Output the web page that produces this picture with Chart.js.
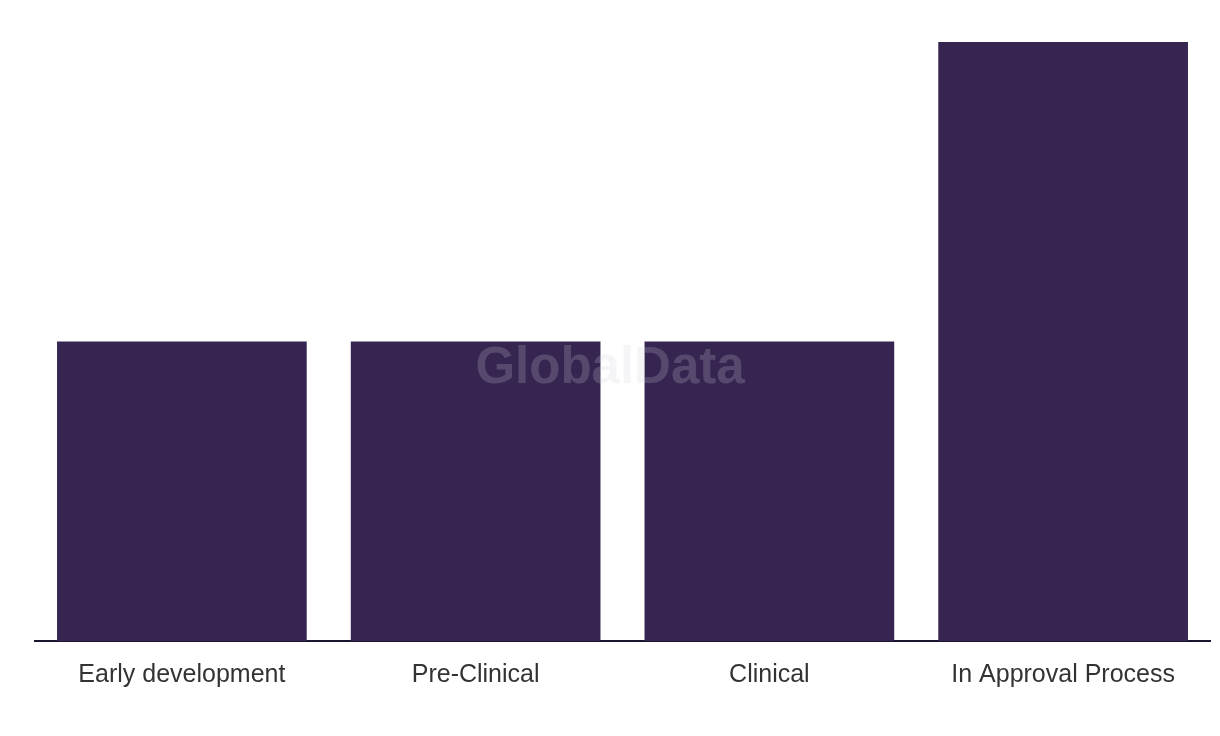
<!DOCTYPE html>
<html>
<head>
<meta charset="utf-8">
<script src="https://cdn.jsdelivr.net/npm/chart.js@4/dist/chart.umd.min.js"></script>
<style>
  html,body{margin:0;padding:0;background:#fff;}
  #wrap{width:1220px;height:736px;position:relative;}
</style>
</head>
<body>
<div id="wrap"><canvas id="stageChart"></canvas></div>
<script>
/* data */
const categories = ['Early development','Pre-Clinical','Clinical','In Approval Process'];
const counts = [1,1,1,2];
const yMax = 2;

const barColor = '#362551';

// watermark drawn over the bars
const watermark = {
  id:'watermark',
  afterDatasetsDraw(chart){
    const {ctx} = chart;
    ctx.save();
    ctx.font = 'bold 51px "Liberation Sans", Arial, sans-serif';
    ctx.fillStyle = 'rgba(207,207,215,0.21)';
    ctx.textAlign = 'center';
    ctx.textBaseline = 'middle';
    ctx.fillText('GlobalData', 610, 369);
    ctx.restore();
  }
};

new Chart(document.getElementById('stageChart').getContext('2d'), {
  type:'bar',
  data:{
    labels:categories,
    datasets:[{
      data:counts,
      backgroundColor:barColor,
      borderWidth:0,
      barPercentage:0.85,
      categoryPercentage:1
    }]
  },
  options:{
    responsive:true,
    maintainAspectRatio:false,
    animation:false,
    layout:{ padding:{ left:35, right:10, top:42, bottom:35 } },
    plugins:{ legend:{display:false}, tooltip:{enabled:false} },
    scales:{
      x:{
        grid:{ display:false },
        border:{ display:true, color:'#1c1530', width:2 },
        ticks:{ color:'#333', padding:11, font:{ family:'"Liberation Sans", Arial, sans-serif', size:25 } }
      },
      y:{ display:false, min:0, max:yMax }
    }
  },
  plugins:[watermark]
});
</script>
</body>
</html>
